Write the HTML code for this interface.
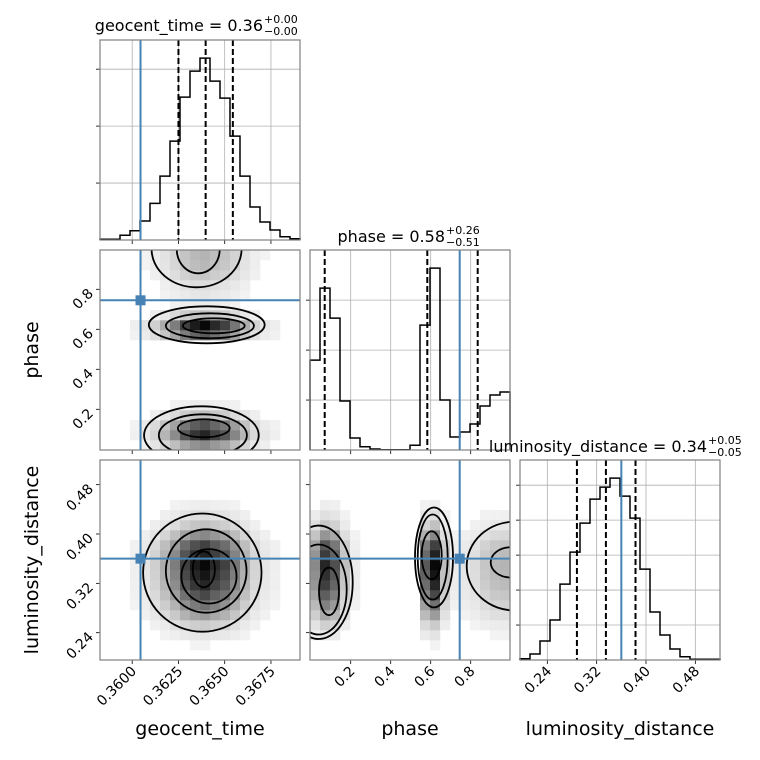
<!DOCTYPE html>
<html><head><meta charset="utf-8"><style>
html,body{margin:0;padding:0;background:#fff}
svg{display:block;font-family:"DejaVu Sans","Liberation Sans",sans-serif}
</style></head><body>
<svg id="c" width="760" height="760" viewBox="0 0 760 760" xmlns="http://www.w3.org/2000/svg"></svg>
<script>
// ---- data ----
const geoHist = [0.7,0.7,4.7,9.3,19,36.7,64,99,143,169,182,159,142,104,64,33,18,10,3.3,1.3];
const phaseHist = [90,162,132,49,12,3.3,1,0.3,0.3,0.3,4.7,125,182,50,13,18,26,44,55,58];
const lumHist = [1.3,6,19,40,76,108,137,161,173,182,164,142,91,48,25,11,3.3,0.7,0.7,0.7];
const geoTicks = [0.3600,0.3625,0.3650,0.3675];
const geoTickLabels = ["0.3600","0.3625","0.3650","0.3675"];
const phaseTicks = [0.2,0.4,0.6,0.8];
const phaseTickLabels = ["0.2","0.4","0.6","0.8"];
const lumTicks = [0.24,0.32,0.40,0.48];
const lumTickLabels = ["0.24","0.32","0.40","0.48"];
const truths = {geo:0.36045, phase:0.745, lum:0.36};
const geoQuant = [0.3625,0.36397,0.36544];
const phaseQuant = [0.07,0.583,0.835];
const lumQuant = [0.288,0.335,0.383];
const geoCountTicks = [57,114,171];
const phaseCountTicks = [50,100,150];
const lumCountTicks = [35,70,105,140,175];
// contours [cx, cy, rx, ry] in data units
const contGeoPhase = [
 [0.36348,1.0,0.00243,0.19],[0.36357,1.0,0.00116,0.12],
 [0.36403,0.6225,0.00313,0.0925],[0.36420,0.6175,0.00238,0.0625],[0.36441,0.6175,0.00167,0.0375],
 [0.36374,0.07,0.0031,0.145],[0.36382,0.07,0.00238,0.105],[0.36387,0.105,0.0014,0.045]
];
const contGeoLum = [
 [0.36379,0.3374,0.0032,0.0958],[0.36400,0.34,0.00218,0.0676],[0.36415,0.3314,0.00149,0.0441],[0.36387,0.3427,0.0006,0.029]
];
const contPhaseLum = [
 [0.04,0.3217,0.17,0.092],[0.04,0.31,0.14,0.073],[0.0915,0.307,0.05,0.0386],
 [0.6165,0.362,0.095,0.081],[0.61,0.3626,0.075,0.069],[0.605,0.3655,0.05,0.039],
 [1.02,0.348,0.24,0.072],[1.0,0.354,0.1,0.0245]
];
// ---- scales ----
const GD=[0.35826,0.36907], PD=[-0.0035,0.9965], LD=[0.1957,0.5200];
function lin(d,r){return v=>r[0]+(v-d[0])/(d[1]-d[0])*(r[1]-r[0]);}
const C=[[100,300],[310,510],[520,720]], R=[[40,240],[250,450],[460,660]];
const gxC=lin(GD,C[0]), pxC=lin(PD,C[1]), lxC=lin(LD,C[2]);
const pyR=lin(PD,[R[1][1],R[1][0]]), lyR=lin(LD,[R[2][1],R[2][0]]);
const svg=document.getElementById('c');
const NS='http://www.w3.org/2000/svg';
function el(t,a,p){const e=document.createElementNS(NS,t);for(const k in a)e.setAttribute(k,a[k]);(p||svg).appendChild(e);return e;}
const defs=el('defs',{});
function clip(id,x,y){const cp=el('clipPath',{id:id},defs);el('rect',{x:x,y:y,width:200,height:200},cp);}
const gray='#808080', blue='#4682b4', grid='#b0b0b0';

function frame(x,y,name){const r=el('rect',{x:x,y:y,width:200,height:200,fill:'none',stroke:gray,'stroke-width':1.2});
}
function text(x,y,s,a){const t=el('text',Object.assign({x:x,y:y,fill:'#000'},a));t.textContent=s;return t;}

function diag(ci,hist,sx,dom,ticks,cticks,quant,truth,name){
  const x0=C[ci][0],y0=R[ci][0],y1=R[ci][1];
  const g=el('g',{});
  const mx=Math.max(...hist)*1.1;
  const hy=v=>y1-v/mx*200;
  ticks.forEach(t=>{el('line',{x1:sx(t),x2:sx(t),y1:y0,y2:y1,stroke:grid,'stroke-width':0.8},g);
    el('line',{x1:sx(t),x2:sx(t),y1:y1,y2:y1+4,stroke:'#000','stroke-width':0.8},g);});
  cticks.forEach(c=>{const yy=hy(c);
    el('line',{x1:x0,x2:x0+200,y1:yy,y2:yy,stroke:grid,'stroke-width':0.8},g);
    el('line',{x1:x0-4,x2:x0,y1:yy,y2:yy,stroke:'#000','stroke-width':0.8},g);});
  const bw=(dom[1]-dom[0])/hist.length;
  let d='M'+sx(dom[0])+','+y1;
  hist.forEach((v,i)=>{d+=' L'+sx(dom[0]+i*bw)+','+hy(v)+' L'+sx(dom[0]+(i+1)*bw)+','+hy(v);});
  d+=' L'+sx(dom[1])+','+y1;
  const p=el('path',{d:d,fill:'none',stroke:'#000','stroke-width':1.5},g);
  
  quant.forEach(q=>{el('line',{x1:sx(q),x2:sx(q),y1:y0,y2:y1,stroke:'#000','stroke-width':2,'stroke-dasharray':'6,3'},g);});
  const tl=el('line',{x1:sx(truth),x2:sx(truth),y1:y0,y2:y1,stroke:blue,'stroke-width':2},g);
  
  frame(x0,y0,name+'-histogram');
}
function pair(ci,ri,hx,hy2,sx,sy,dx,dy,cont,tx,ty,name,xt,yt){
  const x0=C[ci][0],y0=R[ri][0];
  const id='cl'+ci+ri;clip(id,x0,y0);
  const g=el('g',{'clip-path':'url(#'+id+')'});
  const mx=Math.max(...hx)*Math.max(...hy2);
  const bwx=(dx[1]-dx[0])/hx.length,bwy=(dy[1]-dy[0])/hy2.length;
  hx.forEach((a,i)=>hy2.forEach((b,j)=>{
    const f=a*b/mx; if(f<0.03)return;
    const v=Math.round(248-240*Math.pow(f,1.1));
    const xa=sx(dx[0]+i*bwx),xb=sx(dx[0]+(i+1)*bwx),ya=sy(dy[0]+j*bwy),yb=sy(dy[0]+(j+1)*bwy);
    el('rect',{x:Math.min(xa,xb),y:Math.min(ya,yb),width:Math.abs(xb-xa)+0.3,height:Math.abs(yb-ya)+0.3,fill:'rgb('+v+','+v+','+v+')'},g);
  }));
  cont.forEach(c=>{const e=el('ellipse',{cx:sx(c[0]),cy:sy(c[1]),rx:Math.abs(sx(c[0]+c[2])-sx(c[0])),ry:Math.abs(sy(c[1]+c[3])-sy(c[1])),fill:'none',stroke:'#000','stroke-width':1.8},g);
    });
  el('line',{x1:sx(tx),x2:sx(tx),y1:y0,y2:y0+200,stroke:blue,'stroke-width':2},g);
  el('line',{x1:x0,x2:x0+200,y1:sy(ty),y2:sy(ty),stroke:blue,'stroke-width':2},g);
  const m=el('rect',{x:sx(tx)-5,y:sy(ty)-5,width:10,height:10,fill:blue},g);
  
  xt.forEach(t=>el('line',{x1:sx(t),x2:sx(t),y1:y0+200,y2:y0+204,stroke:'#000','stroke-width':0.8}));
  yt.forEach(t=>el('line',{x1:x0-4,x2:x0,y1:sy(t),y2:sy(t),stroke:'#000','stroke-width':0.8}));
  frame(x0,y0,name);
}
diag(0,geoHist,gxC,GD,geoTicks,geoCountTicks,geoQuant,truths.geo,'geocent-time');
diag(1,phaseHist,pxC,PD,phaseTicks,phaseCountTicks,phaseQuant,truths.phase,'phase');
diag(2,lumHist,lxC,LD,lumTicks,lumCountTicks,lumQuant,truths.lum,'luminosity-distance');
pair(0,1,geoHist,phaseHist,gxC,pyR,GD,PD,contGeoPhase,truths.geo,truths.phase,'geocent-vs-phase',geoTicks,phaseTicks);
pair(0,2,geoHist,lumHist,gxC,lyR,GD,LD,contGeoLum,truths.geo,truths.lum,'geocent-vs-lum',geoTicks,lumTicks);
pair(1,2,phaseHist,lumHist,pxC,lyR,PD,LD,contPhaseLum,truths.phase,truths.lum,'phase-vs-lum',phaseTicks,lumTicks);

function title(cx,y,main,up,lo,name){
  const g=el('g',{});
  const t=text(cx,y,main,{'font-size':16,'text-anchor':'end'});g.appendChild(t);
  const u=text(cx+1,y-8,up,{'font-size':11});g.appendChild(u);
  const l=text(cx+1,y+4,lo,{'font-size':11});g.appendChild(l);
}
title(263,31,'geocent_time = 0.36','+0.00','\u22120.00','geocent-time-title');
title(445,242,'phase = 0.58','+0.26','\u22120.51','phase-title');
title(707,452,'luminosity_distance = 0.34','+0.05','\u22120.05','luminosity-distance-title');

function xlab(sx,ticks,labs,name){labs.forEach((s,i)=>{const x=sx(ticks[i])+5,y=672;
  const t=text(x,y,s,{'font-size':14,'text-anchor':'end',transform:'rotate(-45 '+x+' '+y+')'});
  });}
function ylab(sy,ticks,labs,name){labs.forEach((s,i)=>{const x=94,y=sy(ticks[i])+5;
  const t=text(x,y,s,{'font-size':14,'text-anchor':'end',transform:'rotate(-45 '+x+' '+y+')'});
  });}
xlab(gxC,geoTicks,geoTickLabels,'geocent-x');
xlab(pxC,phaseTicks,phaseTickLabels,'phase-x');
xlab(lxC,lumTicks,lumTickLabels,'lum-x');
ylab(pyR,phaseTicks,phaseTickLabels,'phase-y');
ylab(lyR,lumTicks,lumTickLabels,'lum-y');

function alab(x,y,s,rot,name){const t=text(x,y,s,{'font-size':19,'text-anchor':'middle'});
  if(rot)t.setAttribute('transform','rotate(-90 '+x+' '+y+')');
  }
alab(200,735,'geocent_time',false,'x-axis-title-geocent-time');
alab(410,735,'phase',false,'x-axis-title-phase');
alab(620,735,'luminosity_distance',false,'x-axis-title-luminosity-distance');
alab(38,350,'phase',true,'y-axis-title-phase');
alab(38,560,'luminosity_distance',true,'y-axis-title-luminosity-distance');
</script>
</body></html>
